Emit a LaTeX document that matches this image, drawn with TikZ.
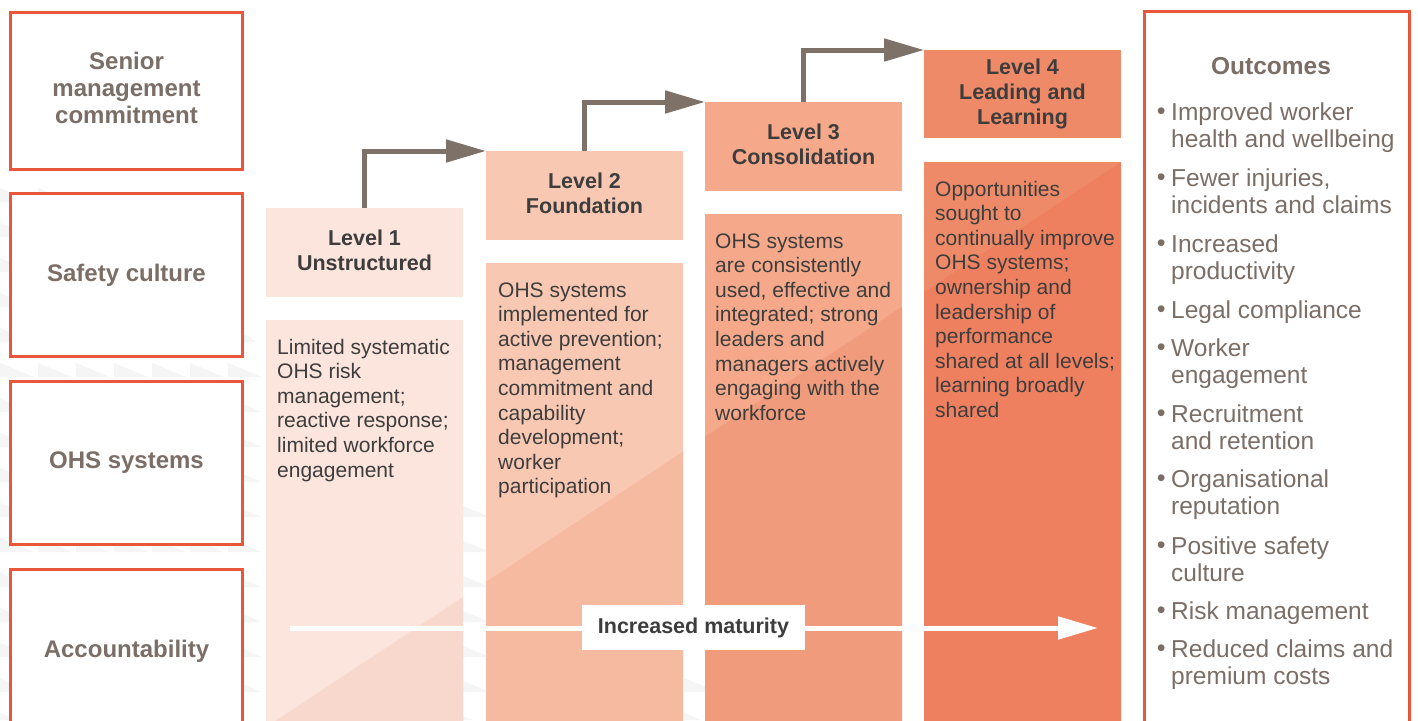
\documentclass[tikz,border=0pt]{standalone}
\usepackage{fontspec}
\setmainfont{Liberation Sans}
\usetikzlibrary{arrows.meta}

\definecolor{framered}{HTML}{E9573B}
\definecolor{labelgrey}{HTML}{7B6E66}
\definecolor{bodyink}{HTML}{3D3D3D}
\definecolor{stepgrey}{HTML}{7E7168}
\definecolor{patterngrey}{HTML}{F5F5F5}
\definecolor{lvA}{HTML}{FCE5DC}
\definecolor{lvB}{HTML}{F8C8B3}
\definecolor{lvC}{HTML}{F5A98A}
\definecolor{lvD}{HTML}{EF8A68}
\definecolor{pnAlo}{HTML}{F8D8CC}
\definecolor{pnBlo}{HTML}{F6BAA1}
\definecolor{pnClo}{HTML}{F09B7C}
\definecolor{pnDlo}{HTML}{EE8060}

\newcommand{\outbullet}{\makebox[20pt][c]{\fontsize{25}{25}\selectfont\raisebox{0.5pt}{•}}}

\begin{document}
\begin{tikzpicture}[x=1pt,y=-1pt,
  rowlabel/.style={draw=framered, line width=3pt, fill=white, inner sep=0pt, outer sep=0pt,
    minimum width=232pt, minimum height=163pt, text=labelgrey,
    font=\fontsize{24}{27}\selectfont\bfseries},
  leveltitle/.style={inner sep=0pt, outer sep=0pt, minimum width=197pt, minimum height=89pt,
    text=bodyink, font=\fontsize{21.5}{25}\selectfont\bfseries},
  levelpanel/.style={inner sep=0pt, outer sep=0pt, minimum width=197pt, minimum height=600pt,
    anchor=north west},
  paneltext/.style={anchor=base west, inner sep=0pt, text=bodyink,
    font=\fontsize{21}{24.6}\selectfont},
  stepline/.style={draw=stepgrey, line width=5pt, -{Triangle[length=40pt,width=22pt]}},
  maturityline/.style={draw=white, line width=5pt, -{Triangle[length=40pt,width=22pt]}},
  outitem/.style={anchor=base west, inner sep=0pt, text=labelgrey,
    font=\fontsize{24.5}{27.7}\selectfont},
]
\useasboundingbox (0,0) rectangle (1418,720);
\clip (0,0) rectangle (1418,720);
\fill[white] (0,0) rectangle (1418,720);

% faint triangle texture behind the lower left
\begin{scope}
  \clip (0,150) -- (760,720) -- (0,720) -- cycle;
  \foreach \r in {0,...,15} {
    \foreach \c in {0,...,20} {
      \fill[patterngrey] ({\c*38},{188+\r*35}) -- ++(0,14) -- ++(34,0) -- cycle;
    }
  }
\end{scope}

% row labels
\node[rowlabel, minimum height=157pt] (senior) at (126.5,91)
  {\raisebox{3pt}{\begin{tabular}{@{}c@{}}Senior\\management\\commitment\end{tabular}}};
\node[rowlabel] (culture) at (126.5,275) {Safety culture};
\node[rowlabel] (systems) at (126.5,463) {OHS systems};
\node[rowlabel] (account) at (126.5,651) {Accountability};

% outcomes frame
\node[rowlabel, minimum width=265pt, minimum height=760pt, anchor=north west] (outbox) at (1144.5,11.5) {};

% level panels with the darker lower-right half
\node[levelpanel, fill=lvA] (pn1) at (266,320) {};
\node[levelpanel, fill=lvB] (pn2) at (486,263) {};
\node[levelpanel, fill=lvC] (pn3) at (705,214) {};
\node[levelpanel, fill=lvD] (pn4) at (924,162) {};
\foreach \p/\c in {pn1/pnAlo, pn2/pnBlo, pn3/pnClo, pn4/pnDlo} {
  \begin{scope}
    \clip (\p.north west) rectangle (\p.south east);
    \fill[\c] (0,903.1) -- (1418,-34.3) -- (1418,800) -- (0,800) -- cycle;
  \end{scope}
}

% level titles
\node[leveltitle, fill=lvA] (lv1) at (364.5,252.5)
  {\begin{tabular}{@{}c@{}}Level 1\\Unstructured\end{tabular}};
\node[leveltitle, fill=lvB] (lv2) at (584.5,195.5)
  {\begin{tabular}{@{}c@{}}Level 2\\Foundation\end{tabular}};
\node[leveltitle, fill=lvC] (lv3) at (803.5,146.5)
  {\begin{tabular}{@{}c@{}}Level 3\\Consolidation\end{tabular}};
\node[leveltitle, fill=lvD, minimum height=88pt] (lv4) at (1022.5,94)
  {\begin{tabular}{@{}c@{}}Level 4\\Leading and\\Learning\end{tabular}};

% panel texts
\node[paneltext] (tx1) at (277,354) {\begin{tabular}[t]{@{}l@{}}Limited systematic\\OHS risk\\management;\\reactive response;\\limited workforce\\engagement\end{tabular}};
\node[paneltext] (tx2) at (498,297) {\begin{tabular}[t]{@{}l@{}}OHS systems\\implemented for\\active prevention;\\management\\commitment and\\capability\\development;\\worker\\participation\end{tabular}};
\node[paneltext] (tx3) at (715,248) {\begin{tabular}[t]{@{}l@{}}OHS systems\\are consistently\\used, effective and\\integrated; strong\\leaders and\\managers actively\\engaging with the\\workforce\end{tabular}};
\node[paneltext] (tx4) at (935,196) {\begin{tabular}[t]{@{}l@{}}Opportunities\\sought to\\continually improve\\OHS systems;\\ownership and\\leadership of\\performance\\shared at all levels;\\learning broadly\\shared\end{tabular}};

% step arrows between levels
\draw[stepline] (lv1.north) |- (lv2.north west);
\draw[stepline] (lv2.north) |- (lv3.north west);
\draw[stepline] (lv3.north) |- (lv4.north west);

% maturity arrow
\coordinate (matstart) at (290,628);
\coordinate (matend) at (1098,628);
\draw[maturityline] (matstart) -- (matend);
\node[fill=white, inner sep=0pt, minimum width=223pt, minimum height=45pt, text=bodyink,
  font=\fontsize{21.5}{25}\selectfont\bfseries] (maturity) at (693.5,627.5) {Increased maturity};

% outcomes list
\node[outitem, anchor=base, font=\fontsize{24.5}{27.7}\selectfont\bfseries] (outhead) at (1271,74) {Outcomes};
\node[outitem] (o1) at (1151,120) {\begin{tabular}[t]{@{}l@{}l@{}}\outbullet&Improved worker\\&health and wellbeing\end{tabular}};
\node[outitem] (o2) at (1151,186) {\begin{tabular}[t]{@{}l@{}l@{}}\outbullet&Fewer injuries,\\&incidents and claims\end{tabular}};
\node[outitem] (o3) at (1151,252) {\begin{tabular}[t]{@{}l@{}l@{}}\outbullet&Increased\\&productivity\end{tabular}};
\node[outitem] (o4) at (1151,318) {\begin{tabular}[t]{@{}l@{}l@{}}\outbullet&Legal compliance\end{tabular}};
\node[outitem] (o5) at (1151,356) {\begin{tabular}[t]{@{}l@{}l@{}}\outbullet&Worker\\&engagement\end{tabular}};
\node[outitem] (o6) at (1151,422) {\begin{tabular}[t]{@{}l@{}l@{}}\outbullet&Recruitment\\&and retention\end{tabular}};
\node[outitem] (o7) at (1151,487) {\begin{tabular}[t]{@{}l@{}l@{}}\outbullet&Organisational\\&reputation\end{tabular}};
\node[outitem] (o8) at (1151,554) {\begin{tabular}[t]{@{}l@{}l@{}}\outbullet&Positive safety\\&culture\end{tabular}};
\node[outitem] (o9) at (1151,619) {\begin{tabular}[t]{@{}l@{}l@{}}\outbullet&Risk management\end{tabular}};
\node[outitem] (o10) at (1151,657) {\begin{tabular}[t]{@{}l@{}l@{}}\outbullet&Reduced claims and\\&premium costs\end{tabular}};
\end{tikzpicture}
\end{document}
